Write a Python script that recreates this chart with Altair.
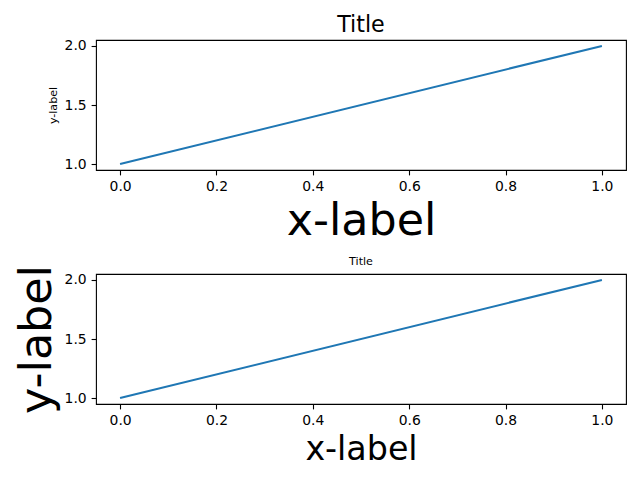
import altair as alt
import pandas as pd

# data
xs = [0.0, 1.0]
ys = [1.0, 2.0]
x_ticks = [0.0, 0.2, 0.4, 0.6, 0.8, 1.0]
y_ticks = [1.0, 1.5, 2.0]
x_domain = [-0.05, 1.05]
y_domain = [0.95, 2.05]
titles = ["Title", "Title"]
xlabels = ["x-label", "x-label"]
ylabels = ["y-label", "y-label"]

df = pd.DataFrame({"x": xs, "y": ys})
FONT = "DejaVu Sans"
W, H = 530, 130


def panel(title, title_size, title_y, xlabel, xlabel_size, xlabel_y,
          ylabel, ylabel_size, ylabel_x):
    line = alt.Chart(df).mark_line(color="#1f77b4", strokeWidth=2.08).encode(
        x=alt.X("x:Q",
                scale=alt.Scale(domain=x_domain, nice=False, zero=False),
                axis=alt.Axis(title=xlabel, values=x_ticks, format=".1f",
                              titleFontSize=xlabel_size, titleX=W / 2,
                              titleY=xlabel_y, titleBaseline="alphabetic",
                              titleAlign="center")),
        y=alt.Y("y:Q",
                scale=alt.Scale(domain=y_domain, nice=False, zero=False),
                axis=alt.Axis(title=ylabel, values=y_ticks, format=".1f",
                              titleFontSize=ylabel_size, titleX=ylabel_x,
                              titleY=H / 2, titleBaseline="alphabetic",
                              titleAlign="center", titleAngle=270)),
    )
    ttl = alt.Chart(pd.DataFrame({"t": [title]})).mark_text(
        font=FONT, fontSize=title_size, color="black", align="center",
        baseline="alphabetic",
    ).encode(text="t:N", x=alt.value(W / 2), y=alt.value(title_y))
    return alt.layer(line, ttl).properties(width=W, height=H)


top = panel(titles[0], 22.2, -8.3, xlabels[0], 44.4, 64, ylabels[0], 11.1, -39.5)
bottom = panel(titles[1], 11.1, -9, xlabels[1], 33.3, 55, ylabels[1], 44.4, -46)

chart = alt.vconcat(top, bottom, spacing=104, bounds="flush").properties(
    background="white",
).configure_view(
    stroke="black", strokeWidth=1.1
).configure_axis(
    domain=False, grid=False,
    labelFont=FONT, labelFontSize=13.9, labelColor="black", labelPadding=4.9,
    tickColor="black", tickSize=4.9, tickWidth=1.1,
    titleFont=FONT, titleFontWeight="normal", titleColor="black",
)

chart.save("out.html", embed_options={"renderer": "svg", "actions": False})
